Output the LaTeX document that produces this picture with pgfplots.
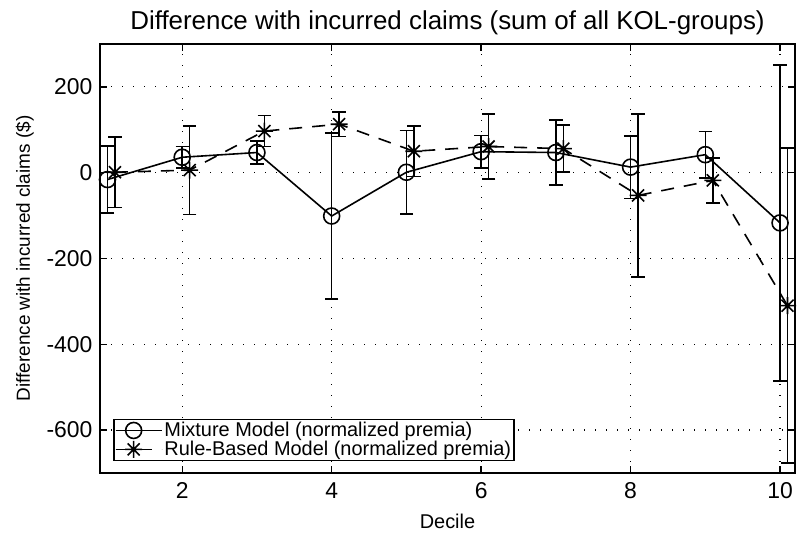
\documentclass[border=0pt]{standalone}
\usepackage{pgfplots}
\pgfplotsset{compat=1.18}
\usepackage{fontspec}
\setmainfont{Liberation Sans}
\pgfdeclareplotmark{mstar}{%
  \pgfpathmoveto{\pgfqpoint{-\pgfplotmarksize}{0pt}}\pgfpathlineto{\pgfqpoint{\pgfplotmarksize}{0pt}}%
  \pgfpathmoveto{\pgfqpoint{0pt}{-\pgfplotmarksize}}\pgfpathlineto{\pgfqpoint{0pt}{\pgfplotmarksize}}%
  \pgfpathmoveto{\pgfqpoint{-0.707\pgfplotmarksize}{-0.707\pgfplotmarksize}}\pgfpathlineto{\pgfqpoint{0.707\pgfplotmarksize}{0.707\pgfplotmarksize}}%
  \pgfpathmoveto{\pgfqpoint{-0.707\pgfplotmarksize}{0.707\pgfplotmarksize}}\pgfpathlineto{\pgfqpoint{0.707\pgfplotmarksize}{-0.707\pgfplotmarksize}}%
  \pgfusepathqstroke}
\begin{document}
\begin{tikzpicture}[x=1bp,y=1bp]
\useasboundingbox (0,0) rectangle (806,537);
\begin{axis}[
  at={(100bp,64bp)}, anchor=south west,
  scale only axis, width=695bp, height=429bp,
  xmin=0.9, xmax=10.2, ymin=-700, ymax=300,
  xtick={2,4,6,8,10}, ytick={-600,-400,-200,0,200},
  tick align=inside, tick pos=both, major tick length=7bp,
  /pgf/number format/assume math mode=true,
  ticklabel style={font=\fontsize{23}{26}\selectfont, black},
  xticklabel style={yshift=-6bp},
  yticklabel style={xshift=-4bp},
  grid=major,
  major grid style={black, line width=1.2bp, dash pattern=on 1.2bp off 9.8bp},
  axis line style={line width=1.8bp},
  every tick/.style={black, line width=1.4bp},
  title={Difference with incurred claims (sum of all KOL-groups)},
  title style={font=\fontsize{26}{29}\selectfont, yshift=0bp},
  xlabel={Decile},
  xlabel style={font=\fontsize{20}{22}\selectfont, yshift=-8bp},
  ylabel={Difference with incurred claims (\$)},
  ylabel style={font=\fontsize{19}{22}\selectfont, yshift=6bp},
  legend style={at={(0.019,0.028)}, anchor=south west, draw=black, line width=1.3bp,
    font=\fontsize{20}{21}\selectfont, inner sep=1bp, row sep=-1bp},
  legend cell align=left,
  legend image code/.code={
    \path (0bp,0bp) -- (46bp,0bp);
    \draw[mark repeat=2,mark phase=2,#1] plot coordinates {(0bp,0bp) (18bp,0bp) (36bp,0bp)};
  },
]
\addplot+[black, solid, line width=1.6bp, mark=o, mark size=8bp,
  mark options={solid, line width=1.6bp},
  error bars/.cd, y dir=both, y explicit,
  error bar style={line width=1.6bp, solid},
  error mark options={rotate=90, mark size=6.7bp, line width=1.6bp}]
coordinates {
 (1,-16) +- (0,78)
 (2,36) +- (0,25)
 (3,47) +- (0,27)
 (4,-101) +- (0,193)
 (5,1) +- (0,97)
 (6,49) +- (0,38)
 (7,47) +- (0,76)
 (8,13) +- (0,73)
 (9,42) +- (0,54)
 (10,-117) +- (0,368)
};
\addlegendentry{Mixture Model (normalized premia)}
\addplot+[black, line width=1.6bp, dash pattern=on 13bp off 10bp, mark=mstar, mark size=8.5bp,
  mark options={solid, line width=1.6bp},
  error bars/.cd, y dir=both, y explicit,
  error bar style={line width=1.6bp, solid},
  error mark options={rotate=90, mark size=6.7bp, line width=1.6bp}]
coordinates {
 (1.1,1) +- (0,82)
 (2.1,6) +- (0,103)
 (3.1,97) +- (0,36)
 (4.1,113) +- (0,29)
 (5.1,50) +- (0,59)
 (6.1,61) +- (0,76)
 (7.1,56) +- (0,55)
 (8.1,-53) +- (0,190)
 (9.1,-18) +- (0,52)
 (10.1,-310) +- (0,367)
};
\addlegendentry{Rule-Based Model (normalized premia)}
\end{axis}
\end{tikzpicture}
\end{document}
